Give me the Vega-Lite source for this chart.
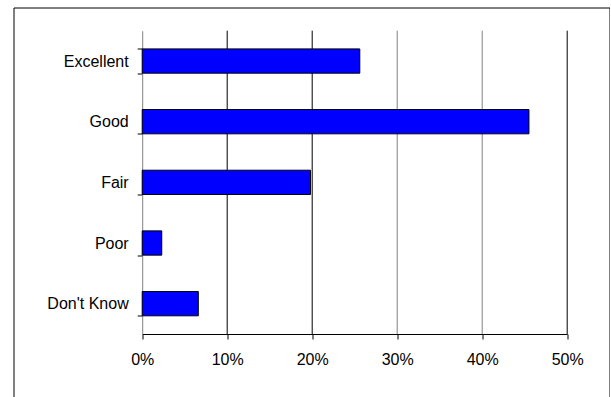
{
  "$schema": "https://vega.github.io/schema/vega-lite/v6.json",
  "width": 596,
  "height": 400,
  "autosize": "none",
  "padding": {"left": 13.5, "top": 7.5, "right": 0, "bottom": 0},
  "background": "white",
  "config": {"view": {"stroke": "black", "strokeWidth": 1}, "font": "Liberation Sans"},
  "datasets": {
    "ratings": [
      {"rating": "Excellent", "pct": 0.256},
      {"rating": "Good", "pct": 0.455},
      {"rating": "Fair", "pct": 0.198},
      {"rating": "Poor", "pct": 0.023},
      {"rating": "Don't Know", "pct": 0.066}
    ],
    "grid": [
      {"pct": 0.1},
      {"pct": 0.2},
      {"pct": 0.3},
      {"pct": 0.4},
      {"pct": 0.5}
    ]
  },
  "encoding": {
    "x": {
      "field": "pct",
      "type": "quantitative",
      "scale": {"domain": [0, 0.5], "range": [128.7, 553.7], "nice": false},
      "axis": {
        "title": null,
        "format": "%",
        "values": [0, 0.1, 0.2, 0.3, 0.4, 0.5],
        "offset": -73.5,
        "grid": false,
        "labelFlush": false,
        "domainColor": "black",
        "tickColor": "black",
        "tickSize": 5,
        "labelFontSize": 16,
        "labelColor": "black",
        "labelPadding": 12
      }
    }
  },
  "layer": [
    {
      "data": {"name": "grid"},
      "mark": {"type": "rule", "strokeWidth": 1},
      "encoding": {
        "y": {"datum": 0, "type": "quantitative", "scale": {"domain": [0, 1], "range": [23.2, 326.5]}, "axis": null},
        "y2": {"datum": 1},
        "color": {
          "condition": {"test": "datum.pct > 0.25 && datum.pct < 0.45", "value": "#808080"},
          "value": "black"
        }
      }
    },
    {
      "data": {"name": "ratings"},
      "mark": {"type": "bar", "color": "#0000FF", "stroke": "black", "strokeWidth": 1},
      "encoding": {
        "y": {
          "field": "rating",
          "type": "nominal",
          "sort": null,
          "scale": {"range": [23.2, 326.5], "paddingInner": 0.6, "paddingOuter": 0.3},
          "axis": {
            "title": null,
            "offset": -128.7,
            "domainColor": "#808080",
            "tickColor": "black",
            "tickSize": 5,
            "tickBand": "extent",
            "labelFontSize": 16,
            "labelColor": "black",
            "labelPadding": 9,
            "grid": false
          }
        }
      }
    }
  ],
  "resolve": {"scale": {"y": "independent"}}
}
